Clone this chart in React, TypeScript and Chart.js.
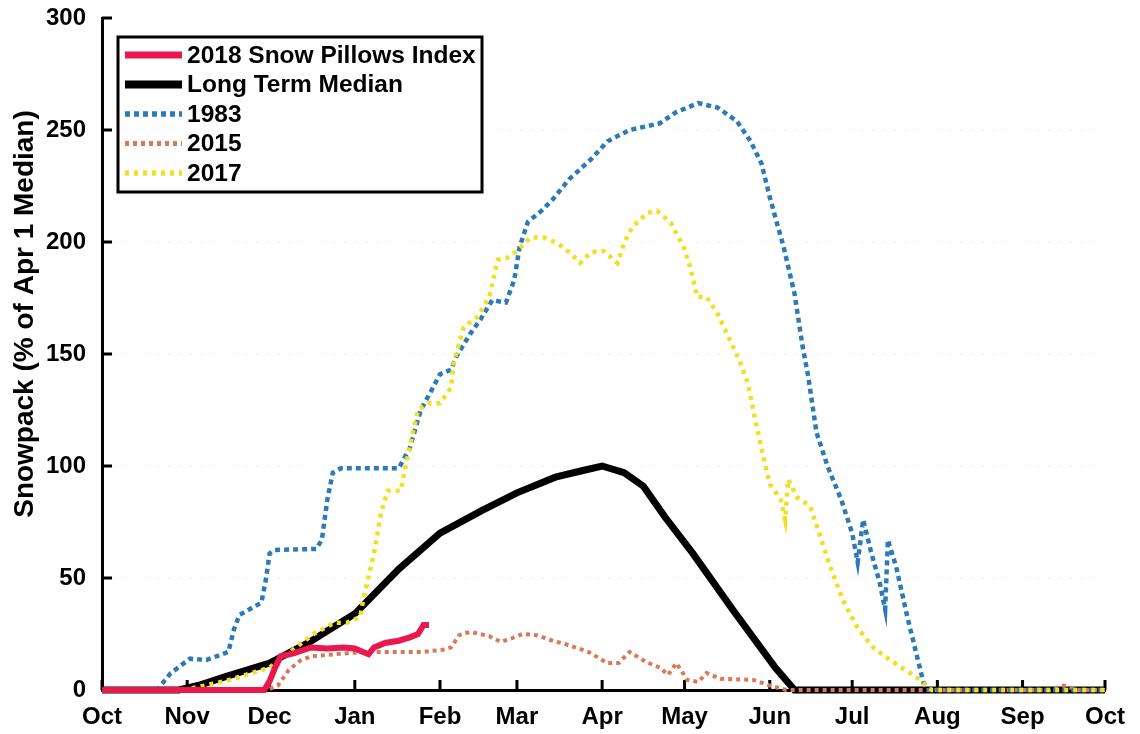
import React, { useEffect, useRef } from "react";
import { Chart, registerables } from "chart.js";

Chart.register(...registerables);

// ---- Data (day of water year, starting Oct 1) ----
const monthStartDays = [0, 31, 61, 92, 123, 151, 182, 212, 243, 273, 304, 335, 365];
const monthLabels = ["Oct", "Nov", "Dec", "Jan", "Feb", "Mar", "Apr", "May", "Jun", "Jul", "Aug", "Sep", "Oct"];
const yTickValues = [0, 50, 100, 150, 200, 250, 300];

const seriesNames = ["2018 Snow Pillows Index", "Long Term Median", "1983", "2015", "2017"];

const snow2018Days = [0, 59, 61, 63, 65, 70, 76, 82, 88, 92, 95, 97, 99, 103, 108, 112, 115, 116, 117, 119];
const snow2018Values = [0, 0, 4, 10, 15, 16.5, 19, 18.5, 19, 18.5, 17, 16, 19, 21, 22, 23.5, 25, 27, 29, 29];

const medianDays = [0, 28, 35, 45, 61, 75, 92, 108, 123, 138, 151, 165, 175, 182, 190, 197, 205, 215, 230, 245, 252, 365];
const medianValues = [0, 0, 2, 6, 12, 21, 34, 54, 70, 80, 88, 95, 98, 100, 97, 91, 77, 61, 35, 10, 0, 0];

const y1983Days = [0, 20, 25, 32, 38, 46, 48, 50, 58, 59.6, 61, 63, 78, 80, 82, 84, 87, 100, 108, 112, 116, 120, 123, 127, 129, 134, 138, 142, 147, 150, 152, 155, 160, 164, 170, 178, 184, 192, 203, 209, 217, 224, 231, 236, 240, 243, 248, 252, 255, 257, 260, 264, 269, 273, 275, 277, 280, 283, 285, 286, 289, 293, 297, 299, 301, 365];
const y1983Values = [0, 0, 7.5, 14, 13.4, 17, 27, 33.5, 39, 49, 61, 62.5, 63, 67, 85, 97, 99, 99, 99, 108, 125, 134, 141, 143, 149, 159, 166, 174, 173, 183, 198, 209, 214, 219, 228, 237, 245, 250, 253, 258, 262, 260, 254, 245, 235, 220, 198, 177, 153, 140, 115, 100, 85, 70, 57, 76, 61, 48, 36, 67, 55, 33, 13, 3, 0, 0];

const y2015Days = [0, 60, 64, 68, 72, 76, 85, 95, 105, 117, 124, 127, 130, 134, 141, 145, 149, 153, 158, 164, 170, 177, 184, 188, 192, 198, 203, 206, 209, 213, 217, 220, 225, 237, 243, 249, 345, 350, 355, 365];
const y2015Values = [0, 0, 2, 9, 13, 15, 16, 17, 17, 17, 18, 19, 24.5, 26, 24, 21.5, 23, 25, 24.5, 22, 20, 17, 12, 12, 17, 12.5, 10, 6.7, 12, 4.5, 3.6, 7.6, 5, 4.5, 2, 0, 0, 2, 0, 0];

const y2017Days = [0, 30, 45, 61, 77, 84.5, 89, 94, 95, 99, 101.5, 104, 108.7, 110, 112.5, 115, 118.5, 123, 127, 128, 131.6, 136.6, 141, 142.5, 144, 147.6, 151, 156, 160.7, 165.7, 170.5, 174, 178, 182.5, 187.6, 190, 193, 198.5, 202, 207, 211.6, 214, 216.6, 220, 224, 228.6, 232, 235, 238, 240.7, 243, 247, 248.6, 249.7, 253, 257.7, 261, 265, 269.7, 274.8, 280.6, 286.8, 294, 297.7, 300, 302, 365];
const y2017Values = [0, 0, 4, 10, 25, 30, 30, 32.6, 40, 61, 79, 89, 89, 97, 111.6, 125, 128, 128, 135, 146, 162, 166.5, 175.6, 184, 192, 193, 196, 202, 202, 199.5, 195, 190.6, 195.5, 196, 190.6, 199.5, 206.7, 213, 214, 208.5, 198, 189, 175.5, 175.5, 168, 156, 147, 137, 119, 104, 92, 85, 76, 94, 86, 82, 70, 55, 40, 28, 19, 13.4, 7.6, 4.5, 1.5, 0, 0];

const yTitle = "Snowpack (% of Apr 1 Median)";

const FONT = "'Liberation Sans', Arial, Helvetica, sans-serif";

function pts(days: number[], vals: number[]) {
  return days.map((d, i) => ({ x: d, y: vals[i] }));
}

const axisDecorPlugin = {
  id: "axisDecor",
  beforeDatasetsDraw(chart: any) {
    const { ctx, chartArea, scales } = chart;
    const x = scales.x;
    const y = scales.y;
    ctx.save();
    // faint dotted grid
    ctx.strokeStyle = "rgba(0,0,0,0.07)";
    ctx.lineWidth = 1;
    ctx.setLineDash([2, 9]);
    yTickValues.forEach((v) => {
      if (v === 0 || v === 300) return;
      const py = y.getPixelForValue(v);
      ctx.beginPath();
      ctx.moveTo(chartArea.left, py);
      ctx.lineTo(chartArea.right, py);
      ctx.stroke();
    });
    ctx.setLineDash([]);
    // inward ticks
    ctx.strokeStyle = "#000";
    ctx.lineWidth = 3;
    monthStartDays.forEach((d) => {
      const px = x.getPixelForValue(d);
      ctx.beginPath();
      ctx.moveTo(px, chartArea.bottom);
      ctx.lineTo(px, chartArea.bottom - 10);
      ctx.stroke();
    });
    yTickValues.forEach((v) => {
      const py = y.getPixelForValue(v);
      ctx.beginPath();
      ctx.moveTo(chartArea.left, py);
      ctx.lineTo(chartArea.left + 10, py);
      ctx.stroke();
    });
    ctx.restore();
  },
  afterDraw(chart: any) {
    const { ctx } = chart;
    ctx.save();
    // y title
    ctx.fillStyle = "#000";
    ctx.font = `bold 28px ${FONT}`;
    ctx.textAlign = "center";
    ctx.textBaseline = "alphabetic";
    ctx.translate(33, 314);
    ctx.rotate(-Math.PI / 2);
    ctx.fillText(yTitle, 0, 0);
    ctx.restore();

    // legend box
    ctx.save();
    const bx = 118, by = 37, bw = 364, bh = 155;
    ctx.fillStyle = "#fff";
    ctx.fillRect(bx, by, bw, bh);
    ctx.strokeStyle = "#000";
    ctx.lineWidth = 3;
    ctx.strokeRect(bx, by, bw, bh);
    chart.data.datasets.forEach((ds: any, i: number) => {
      const ly = 55 + i * 29.5;
      ctx.strokeStyle = ds.borderColor;
      ctx.lineWidth = ds.borderWidth + 1;
      ctx.setLineDash(ds.borderDash || []);
      ctx.lineCap = "butt";
      ctx.beginPath();
      ctx.moveTo(125, ly);
      ctx.lineTo(182, ly);
      ctx.stroke();
      ctx.setLineDash([]);
      ctx.fillStyle = "#000";
      ctx.font = `bold 24.5px ${FONT}`;
      ctx.textAlign = "left";
      ctx.textBaseline = "middle";
      ctx.fillText(ds.label, 187, ly + 1);
    });
    ctx.restore();
  },
};

export default function App() {
  const ref = useRef<HTMLCanvasElement | null>(null);
  useEffect(() => {
    if (!ref.current) return;
    const chart = new Chart(ref.current, {
      type: "line",
      data: {
        datasets: [
          {
            label: seriesNames[0],
            data: pts(snow2018Days, snow2018Values),
            borderColor: "#e8194c",
            borderWidth: 6,
            order: 0,
          },
          {
            label: seriesNames[1],
            data: pts(medianDays, medianValues),
            borderColor: "#000000",
            borderWidth: 7,
            order: 4,
          },
          {
            label: seriesNames[2],
            data: pts(y1983Days, y1983Values),
            borderColor: "#2c7bb6",
            borderWidth: 4.5,
            borderDash: [5, 4],
            order: 2,
          },
          {
            label: seriesNames[3],
            data: pts(y2015Days, y2015Values),
            borderColor: "#d9795a",
            borderWidth: 4,
            borderDash: [4, 4],
            order: 3,
          },
          {
            label: seriesNames[4],
            data: pts(y2017Days, y2017Values),
            borderColor: "#f1df22",
            borderWidth: 4.5,
            borderDash: [4, 5],
            order: 1,
          },
        ] as any,
      },
      options: {
        responsive: false,
        animation: false,
        events: [],
        devicePixelRatio: 1,
        layout: { padding: { left: 0, right: 35, top: 18, bottom: 0 } },
        elements: {
          point: { radius: 0 },
          line: { tension: 0, fill: false, borderCapStyle: "butt" },
        },
        datasets: { line: { clip: false } as any },
        plugins: {
          legend: { display: false },
          tooltip: { enabled: false },
        },
        scales: {
          x: {
            type: "linear",
            min: 0,
            max: 365,
            afterBuildTicks: (s: any) => {
              s.ticks = monthStartDays.map((v) => ({ value: v }));
            },
            afterFit: (s: any) => {
              s.height = 44;
            },
            ticks: {
              autoSkip: false,
              maxRotation: 0,
              padding: 13,
              color: "#000",
              font: { family: FONT, size: 24, weight: "bold" },
              callback: (_v: any, i: number) => monthLabels[i],
            },
            grid: { display: false, drawTicks: false },
            border: { display: true, color: "#000", width: 3 },
          },
          y: {
            min: 0,
            max: 300,
            afterBuildTicks: (s: any) => {
              s.ticks = yTickValues.map((v) => ({ value: v }));
            },
            afterFit: (s: any) => {
              s.width = 102;
              s.paddingTop = 0;
              s.paddingBottom = 0;
            },
            ticks: {
              padding: 16,
              color: "#000",
              font: { family: FONT, size: 24, weight: "bold" },
            },
            grid: { display: false, drawTicks: false },
            border: { display: true, color: "#000", width: 3 },
          },
        },
      },
      plugins: [axisDecorPlugin],
    });
    return () => chart.destroy();
  }, []);
  return (
    <div style={{ position: "fixed", left: 0, top: 0, width: 1140, height: 734, background: "#fff" }}>
      <canvas ref={ref} width={1140} height={734} style={{ display: "block", width: 1140, height: 734 }} />
    </div>
  );
}
